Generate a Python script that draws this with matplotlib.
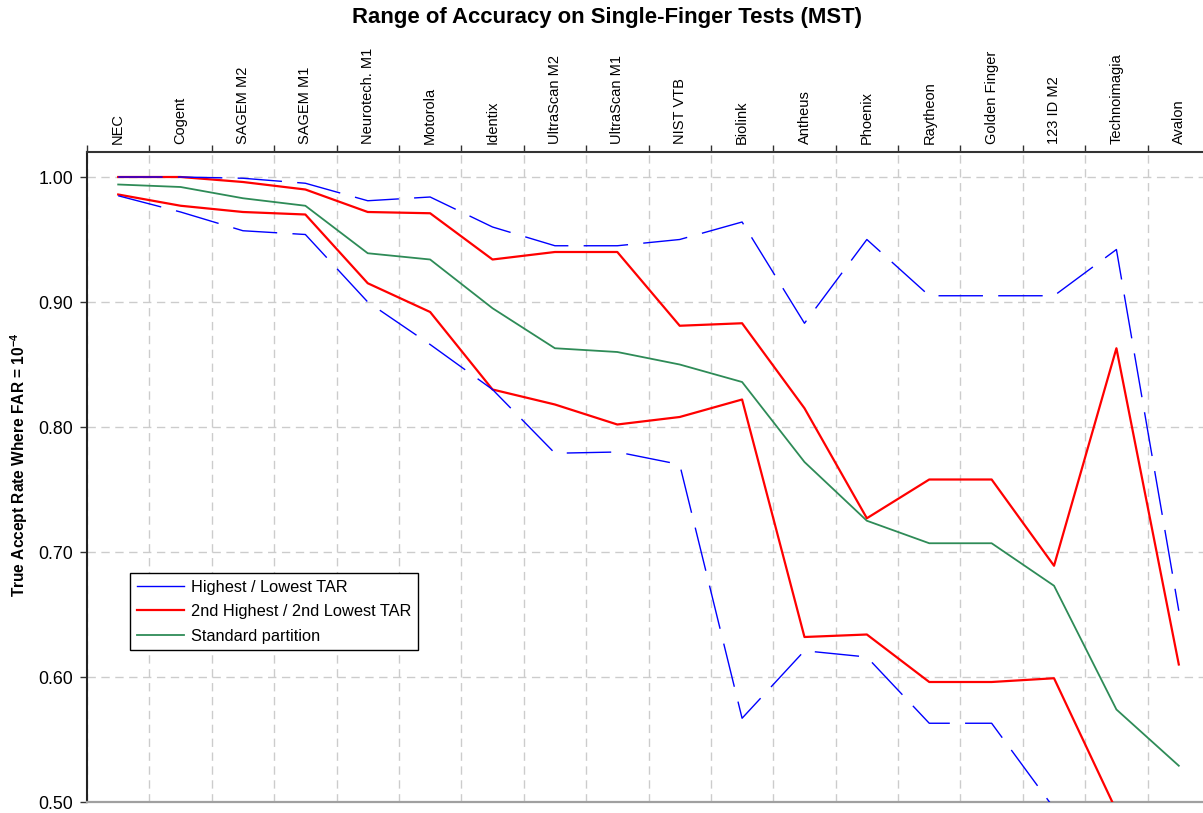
import matplotlib
matplotlib.use('Agg')
import matplotlib.pyplot as plt
from matplotlib.lines import Line2D

categories = ['NEC', 'Cogent', 'SAGEM M2', 'SAGEM M1', 'Neurotech. M1', 'Motorola',
              'Identix', 'UltraScan M2', 'UltraScan M1', 'NIST VTB', 'Biolink',
              'Antheus', 'Phoenix', 'Raytheon', 'Golden Finger', '123 ID M2',
              'Technoimagia', 'Avalon']

blue_high = [1.000, 1.000, 0.999, 0.995, 0.981, 0.984, 0.960, 0.945, 0.945, 0.950,
             0.964, 0.883, 0.950, 0.905, 0.905, 0.905, 0.942, 0.653]
blue_low = [0.985, 0.972, 0.957, 0.954, 0.900, 0.866, 0.830, 0.779, 0.780, 0.770,
            0.567, 0.621, 0.616, 0.563, 0.563, 0.495, 0.400, 0.380]
red_high = [1.000, 1.000, 0.996, 0.990, 0.972, 0.971, 0.934, 0.940, 0.940, 0.881,
            0.883, 0.815, 0.727, 0.758, 0.758, 0.689, 0.863, 0.610]
red_low = [0.986, 0.977, 0.972, 0.970, 0.915, 0.892, 0.830, 0.818, 0.802, 0.808,
           0.822, 0.632, 0.634, 0.596, 0.596, 0.599, 0.493, 0.450]
standard = [0.994, 0.992, 0.983, 0.977, 0.939, 0.934, 0.895, 0.863, 0.860, 0.850,
            0.836, 0.772, 0.725, 0.707, 0.707, 0.673, 0.574, 0.529]

legend_labels = ['Highest / Lowest TAR', '2nd Highest / 2nd Lowest TAR', 'Standard partition']
y_ticks = [0.50, 0.60, 0.70, 0.80, 0.90, 1.00]
title = 'Range of Accuracy on Single-Finger Tests (MST)'
ylabel = 'True Accept Rate Where FAR = 10$^{-4}$'

BLUE = '#0000ff'
RED = '#ff0000'
GREEN = '#2e8b57'

plt.rcParams['font.family'] = ['Liberation Sans', 'DejaVu Sans']
plt.rcParams['mathtext.default'] = 'regular'

W, H = 1203, 813
fig = plt.figure(figsize=(W / 100, H / 100), dpi=100)
ax = fig.add_axes([87 / W, 11 / H, 1123 / W, 650 / H])

x = list(range(len(categories)))
ax.plot(x, standard, color=GREEN, lw=1.3, zorder=3)
ax.plot(x, red_high, color=RED, lw=1.6, zorder=3)
ax.plot(x, red_low, color=RED, lw=1.6, zorder=3)
ax.plot(x, blue_high, color=BLUE, lw=1.0, dashes=(32, 11), zorder=4)
ax.plot(x, blue_low, color=BLUE, lw=1.0, dashes=(32, 11), zorder=4)

ax.set_xlim(-0.5, len(categories) - 0.5)
ax.set_ylim(0.5, 1.02)

# top category labels
ax.xaxis.set_ticks_position('top')
ax.set_xticks(x)
ax.set_xticklabels(categories, rotation=90, fontsize=10.5)
ax.set_xticks([i - 0.5 for i in range(len(categories) + 1)], minor=True)
ax.tick_params(axis='x', which='major', length=0, pad=6, top=True, bottom=False,
               labeltop=True, labelbottom=False)
ax.tick_params(axis='x', which='minor', length=5, width=1.0, top=True, bottom=False,
               direction='out', color='#333333')

ax.set_yticks(y_ticks)
ax.set_yticklabels([f'{v:.2f}' for v in y_ticks], fontsize=12.8)
ax.tick_params(axis='y', which='major', length=5, width=1.0, direction='out',
               color='#333333', pad=5)

grid_kw = dict(color='#cccccc', lw=1.0, linestyle=(0, (6, 4)))
ax.grid(which='minor', axis='x', **grid_kw)
ax.grid(which='major', axis='y', **grid_kw)
ax.set_axisbelow(True)

ax.spines['right'].set_visible(False)
ax.spines['left'].set_color('#222222')
ax.spines['left'].set_linewidth(1.5)
ax.spines['top'].set_color('#333333')
ax.spines['top'].set_linewidth(1.5)
ax.spines['bottom'].set_color('#a0a0a0')
ax.spines['bottom'].set_linewidth(1.6)

handles = [Line2D([], [], color=BLUE, lw=1.0),
           Line2D([], [], color=RED, lw=1.6),
           Line2D([], [], color=GREEN, lw=1.3)]
leg = ax.legend(handles, legend_labels, loc='upper left',
                bbox_to_anchor=(43 / 1123, 229 / 650), borderaxespad=0,
                fontsize=11.8, frameon=True, fancybox=False, edgecolor='black',
                handlelength=2.9, handletextpad=0.45, labelspacing=0.58,
                borderpad=0.4, framealpha=1)
leg.get_frame().set_linewidth(1.0)

fig.text(607 / W, 1 - 18 / H, title, ha='center', va='center',
         fontsize=15.9, fontweight='bold')
fig.text(19 / W, 1 - 465 / H, ylabel, rotation=90, ha='center', va='center',
         fontsize=11.2, fontweight='bold')

fig.savefig('out.png', dpi=100)
